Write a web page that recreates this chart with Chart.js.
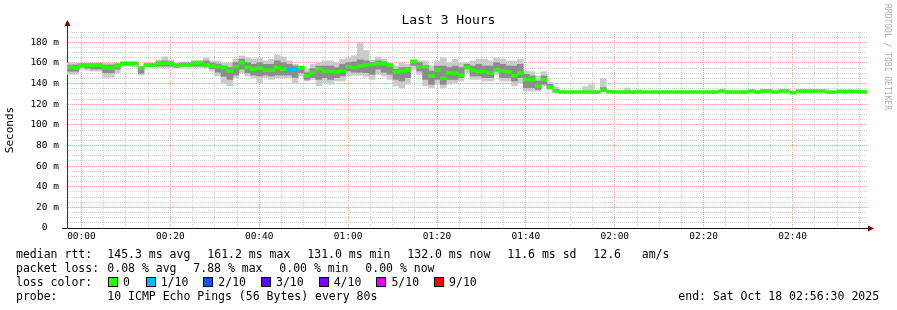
<!DOCTYPE html>
<html>
<head>
<meta charset="utf-8">
<script src="https://cdn.jsdelivr.net/npm/chart.js@4.4.0/dist/chart.umd.min.js"></script>
<style>
  html, body { margin: 0; padding: 0; background: #fff; }
  #wrap { position: relative; width: 897px; height: 310px; overflow: hidden; }
  #c { position: absolute; left: 0; top: 0; }
  .txt { position: absolute; font: 11.5px "DejaVu Sans Mono", monospace; white-space: pre; color: #000; line-height: 14px; }
  .sw { position: absolute; width: 8px; height: 8px; border: 1px solid #000; }
  #title { position: absolute; left: 0; top: 12px; width: 897px; text-align: center; font: 13px "DejaVu Sans Mono", monospace; line-height: 15px; }
  #credit { position: absolute; left: 883px; top: 4px; writing-mode: vertical-rl; font: 8px "DejaVu Sans Mono", monospace; color: #b0b0b0; line-height: 9px; }
</style>
</head>
<body>
<div id="wrap">
  <canvas id="c" width="897" height="310"></canvas>
  <div id="title">Last 3 Hours</div>
  <div id="credit">RRDTOOL / TOBI OETIKER</div>
  <div id="legend"></div>
</div>
<script>
// ---- data (minutes since 00:00, 80 s per sample) ----
const sampleMinutes = 80 / 60;
const startMinute = -3.25;

const median = [
  156, 155, 158, 158, 158, 158, 155.5, 154.8, 157, 159.7,
  159.7, 159.7, 154.8, 158, 158, 159.7, 159.7, 159.7, 157, 158,
  158, 159.7, 159.7, 158, 157, 156.4, 155.5, 152.2, 156.4, 160.3,
  155.5, 153.9, 155, 153.2, 152.9, 155.5, 153.9, 153.2, 153.9, 155.5,
  147.4, 150.6, 154.5, 152.2, 152.2, 151.3, 152, 156.5, 155.5, 157,
  158, 158.7, 159.4, 159.4, 157.7, 151.3, 152, 153.2, 161.2, 156.4,
  156.4, 147.4, 153.2, 145, 150.6, 150, 148.3, 155.5, 152.9, 151.6,
  151.3, 150.3, 153.5, 152.2, 151.3, 147.7, 150.3, 143.8, 143.8, 137.7,
  143.8, 136.7, 132.8, 131.8, 131.8, 131.8, 131.8, 131.8, 131.8, 131.8,
  133.5, 132.2, 131.8, 131.8, 131.8, 131.8, 131.8, 131.8, 131.8, 131.8,
  131.8, 131.8, 131.8, 131.8, 131.8, 131.8, 131.8, 131.8, 131.8, 131.8,
  132.8, 131.8, 131.8, 131.8, 131.8, 132.8, 131.8, 132.8, 132.8, 131.8,
  132.8, 132.8, 131.2, 132.8, 132.8, 132.8, 132.8, 132.8, 131.8, 131.8,
  132.5, 132.5, 132.5, 132.5, 132
];

const lossTenths = [
  0,0,0,0,0,0,0,0,0,0, 0,0,0,0,0,0,0,0,0,0, 0,0,0,0,0,0,0,0,0,0,
  0,0,0,0,0,0,0,1,1,0, 0,0,0,0,0,0,0,0,0,0, 0,0,0,0,0,0,0,0,0,0,
  0,0,0,0,0,0,0,0,0,0, 0,0,0,0,0,0,0,0,0,0, 0,0,0,0,0,0,0,0,0,0,
  0,0,0,0,0,0,0,0,0,0, 0,0,0,0,0,0,0,0,0,0, 0,0,0,0,0,0,0,0,0,0,
  0,0,0,0,0,0,0,0,0,0, 0,0,0,0,0
];

const smokeOuterHi = [
  160, 160, 160, 160, 160, 160, 160, 160, 160, 161,
  161, 161, 157, 160, 160, 163, 166, 163, 160, 161,
  161, 162.6, 162.6, 165, 162, 162, 160, 160, 163.6, 166.8,
  165, 163.6, 165, 162, 163.6, 167.8, 165.8, 162, 158.7, 157,
  153.9, 158.7, 160.3, 162, 162, 160.3, 163.6, 165, 167, 180,
  172, 162.6, 165.8, 163.6, 160.3, 157, 160.3, 158.7, 163.6, 162,
  162, 157, 162, 165, 160.3, 163.6, 160.3, 160.3, 162, 163.6,
  163.6, 162, 165, 163.6, 162, 162, 163.6, 152.2, 151.6, 147.4,
  151.6, 141, 136.7, 133.5, null, null, null, 137, 139, null,
  145, null, null, null, 135.7, null, 134, null, null, null,
  null, null, null, null, null, null, null, null, null, null,
  null, null, null, null, null, null, null, null, null, null,
  null, null, null, null, null, null, null, null, null, null,
  null, null, null, null, null
];
const smokeOuterLo = [
  149, 149, 154, 153, 152, 152, 146, 146, 150.6, 157,
  157, 156, 148.3, 156, 156, 155.5, 155.5, 155.5, 155, 156,
  156, 155.5, 155.5, 155.5, 152, 147.4, 141, 137.7, 145.8, 150.6,
  147.4, 145.8, 141, 145.8, 144, 145.8, 145.8, 145.8, 141, 147.4,
  142.5, 144, 137.7, 141, 139.3, 142.5, 142.5, 147.4, 148, 148,
  147, 144, 149, 147.4, 144, 137.7, 136, 139.3, 153.9, 149,
  137.7, 136, 139.3, 136, 139.3, 141, 142.5, 150.6, 144, 144,
  142.5, 142.5, 149, 142.5, 142.5, 137.7, 141, 132.8, 132.8, 132.8,
  137.7, 134.4, 132.2, 131.2, null, null, null, 131.5, 131.5, null,
  132.8, null, null, null, 131.5, null, 131.5, null, null, null,
  null, null, null, null, null, null, null, null, null, null,
  null, null, null, null, null, null, null, null, null, null,
  null, null, null, null, null, null, null, null, null, null,
  null, null, null, null, null
];
const smokeInnerHi = [
  158, 158, 159, 159, 159, 159, 158, 158, 159, 160.5,
  160.5, 160.5, 156, 159, 159, 161, 162, 161, 159, 160,
  160, 161, 161, 162, 160, 159, 157, 155.5, 160.3, 163.6,
  160.3, 158.7, 160.3, 158.7, 158.7, 162, 160.3, 158.7, 157, 156,
  150.6, 154.5, 157, 157, 157, 155.5, 158.7, 160.3, 161, 163,
  162, 160.3, 162, 161, 159, 153.9, 155.5, 155.5, 162.6, 160.3,
  157.7, 152.2, 157, 157, 155.5, 157, 155.5, 158.7, 157, 158.7,
  157, 157, 160.3, 158.7, 157, 157, 158.7, 149, 147.4, 142.5,
  147.4, 139.3, 134.4, null, null, null, null, null, null, null,
  136, null, null, null, null, null, null, null, null, null,
  null, null, null, null, null, null, null, null, null, null,
  null, null, null, null, null, null, null, null, null, null,
  null, null, null, null, null, null, null, null, null, null,
  null, null, null, null, null
];
const smokeInnerLo = [
  152, 152, 156, 155, 154, 154, 150.5, 150.5, 154, 158,
  158, 158, 150, 157, 157, 157, 157, 157, 156, 157,
  157, 157, 157, 156.5, 154.5, 151, 147, 144, 148.3, 153.9,
  150.6, 148.3, 147.4, 148.3, 147.4, 148.3, 148.3, 148.3, 146, 150.6,
  144, 145.8, 144, 145.8, 144, 145.8, 147.4, 152.2, 151, 151,
  150.6, 149, 154, 151, 149, 144, 142.5, 145.8, 157.7, 152.2,
  144, 139.3, 144, 139.3, 144, 144, 145.8, 154.5, 147.4, 147.4,
  145.8, 145.8, 152.2, 145.8, 145.8, 142.5, 145.8, 136, 136, 134.4,
  139.3, 135.5, 132.2, null, null, null, null, null, null, null,
  133, null, null, null, null, null, null, null, null, null,
  null, null, null, null, null, null, null, null, null, null,
  null, null, null, null, null, null, null, null, null, null,
  null, null, null, null, null, null, null, null, null, null,
  null, null, null, null, null
];

const lossColors = ['#26ff00', '#00b8ff', '#0059ff', '#5e00ff', '#7e00ff', '#dd00ff', '#ff0000'];
const lossLabels = ['0', '1/10', '2/10', '3/10', '4/10', '5/10', '9/10'];
const lossIndexOfTenths = { 0: 0, 1: 1, 2: 2, 3: 3, 4: 4, 5: 5, 9: 6 };

const timeTickValues = [0, 20, 40, 60, 80, 100, 120, 140, 160];

// ---- build chart ----
const times = median.map((_, i) => startMinute + (i + 0.5) * sampleMinutes);
const medianHalf = 1.4;

function rangeData(lo, hi) {
  return times.map((t, i) => ({ x: t, y: (lo[i] == null || hi[i] == null) ? null : [lo[i], hi[i]] }));
}

function fmtTime(v) {
  const h = Math.floor(v / 60), m = v % 60;
  return String(h).padStart(2, '0') + ':' + String(m).padStart(2, '0');
}

const RED_GRID = '#f2a3a3';
const GRAY_GRID = '#d2d2d2';

const axisExtras = {
  id: 'axisExtras',
  afterDraw(chart) {
    const { ctx, chartArea: a } = chart;
    ctx.save();
    ctx.strokeStyle = '#222';
    ctx.lineWidth = 1;
    ctx.beginPath();
    ctx.moveTo(67.5, a.top); ctx.lineTo(67.5, 25);
    ctx.moveTo(62, 228.5); ctx.lineTo(67, 228.5);
    ctx.moveTo(a.right, 228.5); ctx.lineTo(869, 228.5);
    ctx.stroke();
    ctx.fillStyle = '#7a0000';
    ctx.beginPath();
    ctx.moveTo(64.5, 26); ctx.lineTo(70.5, 26); ctx.lineTo(67.5, 20); ctx.closePath();
    ctx.fill();
    ctx.beginPath();
    ctx.moveTo(868, 225.5); ctx.lineTo(868, 231.5); ctx.lineTo(874, 228.5); ctx.closePath();
    ctx.fill();
    ctx.restore();
  }
};

new Chart(document.getElementById('c'), {
  type: 'bar',
  data: {
    datasets: [
      {
        label: 'median',
        data: times.map((t, i) => ({ x: t, y: [median[i] - medianHalf, median[i] + medianHalf] })),
        backgroundColor: lossTenths.map(l => lossColors[lossIndexOfTenths[l]]),
        order: 0
      },
      { label: 'smoke inner', data: rangeData(smokeInnerLo, smokeInnerHi), backgroundColor: '#8c8c8c', order: 1 },
      { label: 'smoke outer', data: rangeData(smokeOuterLo, smokeOuterHi), backgroundColor: '#cbcbcb', order: 2 }
    ]
  },
  options: {
    responsive: false,
    animation: false,
    events: [],
    datasets: { bar: { grouped: false, barPercentage: 1, categoryPercentage: 1, borderWidth: 0 } },
    layout: { padding: { top: 32, right: 30, bottom: 0, left: 0 } },
    plugins: { legend: { display: false }, tooltip: { enabled: false } },
    scales: {
      x: {
        type: 'linear',
        offset: false,
        min: startMinute,
        max: startMinute + 180,
        afterBuildTicks: scale => {
          const ticks = [];
          for (let v = 0; v <= 175; v += 5) ticks.push({ value: v });
          scale.ticks = ticks;
        },
        afterFit: scale => { scale.height = 82; },
        ticks: {
          autoSkip: false, maxRotation: 0, padding: 3, color: '#000',
          font: { family: 'DejaVu Sans Mono', size: 9.5 },
          callback: v => timeTickValues.includes(v) ? fmtTime(v) : ''
        },
        grid: {
          offset: false,
          drawTicks: false,
          color: ctx => (ctx.tick && ctx.tick.value % 20 === 0) ? RED_GRID : GRAY_GRID
        },
        border: { display: true, color: '#111', dash: [1, 1] }
      },
      y: {
        min: 0,
        max: 190,
        afterFit: scale => { scale.width = 67; },
        ticks: {
          stepSize: 5, autoSkip: false, padding: 8, color: '#000',
          font: { family: 'DejaVu Sans Mono', size: 9.5 },
          callback: v => v % 20 === 0 ? (v === 0 ? '0  ' : v + ' m') : ''
        },
        grid: {
          drawTicks: false,
          color: ctx => (ctx.tick && ctx.tick.value % 20 === 0) ? RED_GRID : GRAY_GRID
        },
        border: { display: true, color: '#333', dash: [1, 1] },
        title: {
          display: true, text: 'Seconds', color: '#000',
          font: { family: 'DejaVu Sans Mono', size: 11 },
          padding: { top: 4, bottom: 0 }
        }
      }
    }
  },
  plugins: [axisExtras]
});

// ---- legend text below the graph ----
const legendRows = [
  { y: 247, items: [[16, 'median rtt:'], [107.3, '145.3 ms avg'], [207.3, '161.2 ms max'], [307.3, '131.0 ms min'], [407.3, '132.0 ms now'], [507.3, '11.6 ms sd'], [593.3, '12.6   am/s']] },
  { y: 261, items: [[16, 'packet loss:'], [107.3, '0.08 % avg'], [193.3, '7.88 % max'], [279.3, '0.00 % min'], [365.3, '0.00 % now']] },
  { y: 275, items: [[16, 'loss color:']] },
  { y: 289, items: [[16, 'probe:'], [107.3, '10 ICMP Echo Pings (56 Bytes) every 80s'], [678.3, 'end: Sat Oct 18 02:56:30 2025']] }
];
const swatchX = [108, 145.7, 203.3, 261, 318.7, 376.4, 434.1];

const legend = document.getElementById('legend');
legendRows.forEach(row => {
  row.items.forEach(([x, s]) => {
    const d = document.createElement('div');
    d.className = 'txt';
    d.style.left = x + 'px';
    d.style.top = row.y + 'px';
    d.textContent = s;
    legend.appendChild(d);
  });
});
lossLabels.forEach((lab, i) => {
  const b = document.createElement('div');
  b.className = 'sw';
  b.style.left = swatchX[i] + 'px';
  b.style.top = '277px';
  b.style.background = lossColors[i];
  legend.appendChild(b);
  const t = document.createElement('div');
  t.className = 'txt';
  t.style.left = (swatchX[i] + 15) + 'px';
  t.style.top = '275px';
  t.textContent = lab;
  legend.appendChild(t);
});
</script>
</body>
</html>
